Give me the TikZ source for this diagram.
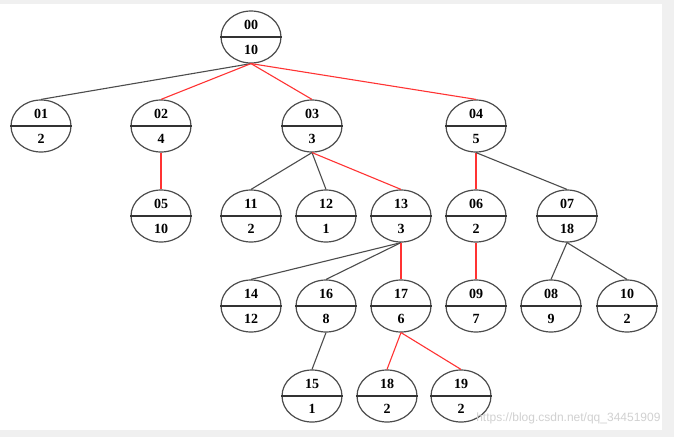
\documentclass[tikz,border=0pt]{standalone}
\usepackage{fontspec}
\setmainfont{Liberation Serif}
\setsansfont{Liberation Sans}
\usetikzlibrary{shapes.geometric}

\begin{document}
\begin{tikzpicture}[
        x=1pt,
        y=-1pt,
        tnode/.style={
            ellipse,
            draw=black!70,
            line width=1.2pt,
            fill=white,
            minimum width=60pt,
            minimum height=52pt,
            inner sep=0pt
        },
        label/.style={
            font=\bfseries\fontsize{14}{14}\selectfont
        },
        edge/.style={
            draw=black!70,
            line width=1.1pt
        },
        hot/.style={
            draw=red!80,
            line width=1.1pt
        },
        ]

        \fill [black!6] (0,0) rectangle (674,437);
        \fill [white] (0,4) rectangle (662,430);
        \useasboundingbox (0,0) rectangle (674,437);

        \newcommand{\tnode}[5]{%
            \node [tnode] (n#1) at (#2,#3) {};
            \draw [black!80,line width=1.1pt] (n#1.west) -- (n#1.east);
            \node [label] at (#2,#3-12) {#4};
            \node [label] at (#2,#3+13) {#5};
        }

        % nodes
        \foreach \nm/\x/\y/\a/\b in {00/251/37/00/10,01/41/126/01/2,02/161/126/02/4,03/312/126/03/3,04/476/126/04/5,
            05/161/216/05/10,11/251/216/11/2,12/326/216/12/1,13/401/216/13/3,06/476/216/06/2,07/567/216/07/18,
            14/251/306/14/12,16/326/306/16/8,17/401/306/17/6,09/476/306/09/7,08/551/306/08/9,10/627/306/10/2,
            15/312/396/15/1,18/387/396/18/2,19/461/396/19/2}
            \tnode{\nm}{\x}{\y}{\a}{\b};

        % edges
        \path [edge] (n00.south) -- (n01.north);
        \path [hot] (n00.south) -- (n02.north);
        \path [hot] (n00.south) -- (n03.north);
        \path [hot] (n00.south) -- (n04.north);
        \path [hot] (n02.south) -- (n05.north);
        \path [edge] (n03.south) -- (n11.north);
        \path [edge] (n03.south) -- (n12.north);
        \path [hot] (n03.south) -- (n13.north);
        \path [hot] (n04.south) -- (n06.north);
        \path [edge] (n04.south) -- (n07.north);
        \path [edge] (n13.south) -- (n14.north);
        \path [edge] (n13.south) -- (n16.north);
        \path [hot] (n13.south) -- (n17.north);
        \path [hot] (n06.south) -- (n09.north);
        \path [edge] (n07.south) -- (n08.north);
        \path [edge] (n07.south) -- (n10.north);
        \path [edge] (n16.south) -- (n15.north);
        \path [hot] (n17.south) -- (n18.north);
        \path [hot] (n17.south) -- (n19.north);

        \node [font=\sffamily\fontsize{12}{12}\selectfont,text=black!18,anchor=east] (mark) at (664,418) {https://blog.csdn.net/qq\_34451909};
    \end{tikzpicture}
\end{document}
